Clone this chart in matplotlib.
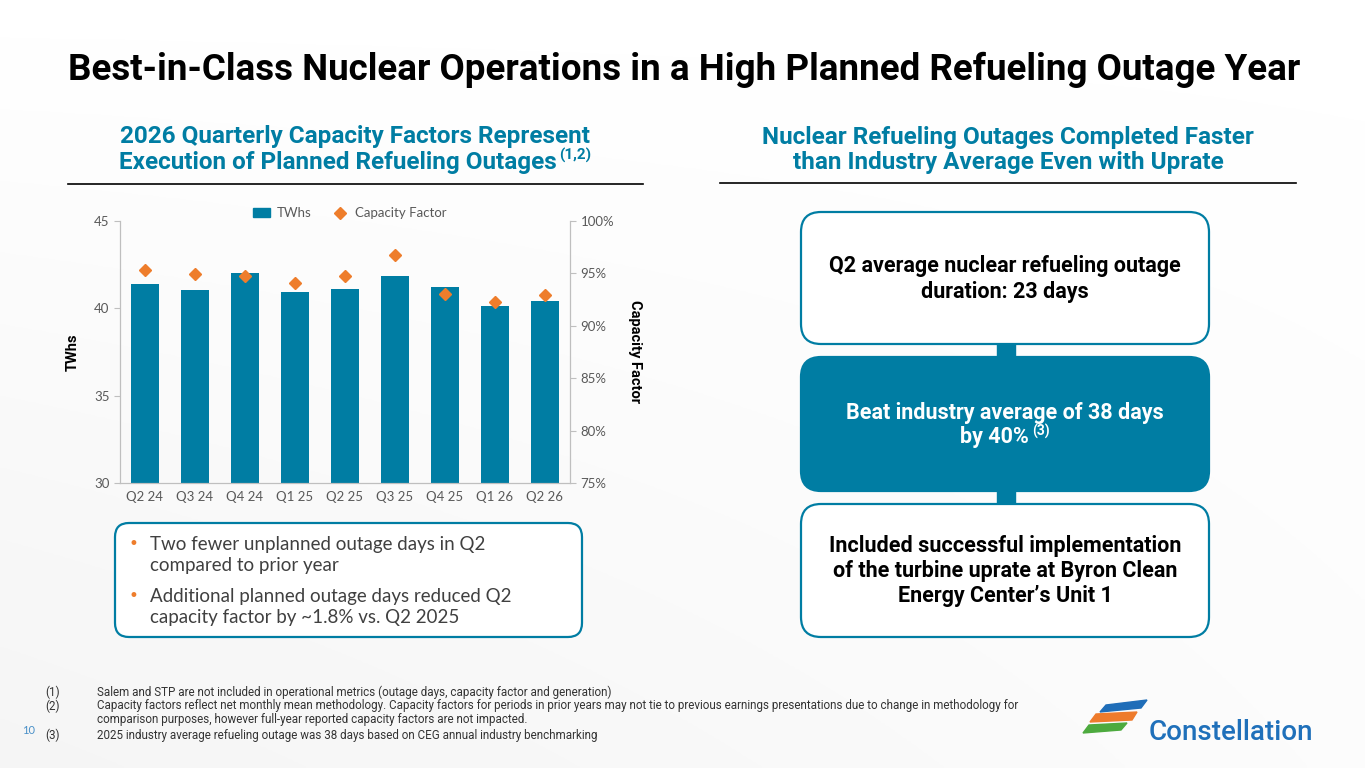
import numpy as np
import matplotlib.pyplot as plt
from matplotlib import font_manager
from matplotlib.patches import FancyBboxPatch, Rectangle, Polygon
from matplotlib.lines import Line2D
from matplotlib.ticker import FuncFormatter

# data
quarters = ['Q2 24', 'Q3 24', 'Q4 24', 'Q1 25', 'Q2 25', 'Q3 25', 'Q4 25', 'Q1 26', 'Q2 26']
twhs = [41.4, 41.05, 42.05, 40.95, 41.1, 41.85, 41.25, 40.15, 40.4]
cap_factor = [95.35, 94.95, 94.75, 94.05, 94.75, 96.75, 93.05, 92.3, 92.95]
twh_ticks = [30, 35, 40, 45]
cf_ticks = [75, 80, 85, 90, 95, 100]

TEAL = '#007DA3'
ORANGE = '#EE7D2B'
GREY = '#595959'
AXC = '#BFBFBF'

names = set(f.name for f in font_manager.fontManager.ttflist)
COND = 'Liberation Sans Narrow' if 'Liberation Sans Narrow' in names else 'Roboto'
BODY = 'Lato'

W, H = 1365, 768
fig = plt.figure(figsize=(W / 100, H / 100), dpi=100)

# full-size canvas in pixel coordinates for the slide furniture
bg = fig.add_axes([0, 0, 1, 1])
bg.set_xlim(0, W)
bg.set_ylim(H, 0)
bg.axis('off')
grad = np.linspace(0, 1, 256).reshape(-1, 1) * np.linspace(1, 0.3, 256).reshape(1, -1)
bg.imshow(grad, extent=[0, W, H, 0], cmap='Greys', vmin=0, vmax=12, aspect='auto', zorder=0)

bg.text(684, 70, 'Best-in-Class Nuclear Operations in a High Planned Refueling Outage Year',
        fontsize=26.5, fontweight='bold', family=COND, color='black', ha='center', va='center')


def with_sup(x, y, main, sup, size, sup_size, color, zorder=3):
    """centered text with a small superscript tacked on the end"""
    renderer = fig.canvas.get_renderer()
    probe = bg.text(0, 0, sup, fontsize=sup_size, fontweight='bold', family=COND)
    sw = probe.get_window_extent(renderer).width + 3
    probe.remove()
    t = bg.text(x - sw / 2, y, main, fontsize=size, fontweight='bold', family=COND, color=color,
                ha='center', va='center', zorder=zorder)
    bb = t.get_window_extent(renderer)
    bg.text(bb.x1 + 3, y - size * 0.35, sup, fontsize=sup_size, fontweight='bold', family=COND,
            color=color, ha='left', va='center', zorder=zorder)


# section headings
HS = 17.5
bg.text(355, 137, '2026 Quarterly Capacity Factors Represent', fontsize=HS, fontweight='bold',
        family=COND, color=TEAL, ha='center', va='center')
with_sup(355, 162, 'Execution of Planned Refueling Outages', '(1,2)', HS, 11, TEAL)
bg.text(1008, 150, 'Nuclear Refueling Outages Completed Faster\nthan Industry Average Even with Uprate',
        fontsize=HS, fontweight='bold', family=COND, color=TEAL, ha='center', va='center', linespacing=1.15)
bg.plot([68, 643], [184, 184], color='black', lw=1.2)
bg.plot([720, 1296], [183, 183], color='black', lw=1.2)

# right-hand flow of boxes
for y0, y1 in [(344, 357), (491, 504)]:
    bg.add_patch(Rectangle((997, y0 - 2), 18, y1 - y0 + 4, color=TEAL, zorder=1))
boxes = [(212, 344, 'white'), (357, 491, TEAL), (504, 637, 'white')]
for top, bot, fc in boxes:
    bg.add_patch(FancyBboxPatch((801, top), 408, bot - top, boxstyle='round,pad=0,rounding_size=20',
                                fc=fc, ec=TEAL, lw=1.6, zorder=2))

BS = 15.5
bg.text(1005, 279, 'Q2 average nuclear refueling outage\nduration: 23 days', fontsize=BS,
        fontweight='bold', family=COND, color='black', ha='center', va='center', linespacing=1.2, zorder=3)
bg.text(1005, 413, 'Beat industry average of 38 days', fontsize=BS,
        fontweight='bold', family=COND, color='white', ha='center', va='center', zorder=3)
with_sup(1005, 437, 'by 40%', '(3)', BS, 10, 'white')
bg.text(1005, 571, 'Included successful implementation\nof the turbine uprate at Byron Clean\nEnergy Center\u2019s Unit 1',
        fontsize=BS, fontweight='bold', family=COND, color='black', ha='center', va='center',
        linespacing=1.2, zorder=3)

# bullet box under chart
bg.add_patch(FancyBboxPatch((115, 523), 467, 114, boxstyle='round,pad=0,rounding_size=14',
                            fc='white', ec=TEAL, lw=1.6, zorder=2))
bullets = [('Two fewer unplanned outage days in Q2\ncompared to prior year', 555),
           ('Additional planned outage days reduced Q2\ncapacity factor by ~1.8% vs. Q2 2025', 607)]
for txt, yc in bullets:
    bg.text(133, yc - 11, '\u2022', fontsize=12, color=ORANGE, ha='center', va='center', zorder=3)
    bg.text(150, yc, txt, fontsize=13.5, family=BODY, color='#404040', ha='left', va='center',
            linespacing=1.3, zorder=3)

# footnotes
notes = [('(1)', 'Salem and STP are not included in operational metrics (outage days, capacity factor and generation)', 692),
         ('(2)', 'Capacity factors reflect net monthly mean methodology. Capacity factors for periods in prior years may not tie to previous earnings presentations due to change in methodology for', 706),
         ('', 'comparison purposes, however full-year reported capacity factors are not impacted.', 720),
         ('(3)', '2025 industry average refueling outage was 38 days based on CEG annual industry benchmarking', 735)]
for num, txt, y in notes:
    bg.text(45, y, num, fontsize=8.4, family=COND, color='#333333', ha='left', va='center')
    bg.text(97, y, txt, fontsize=8.4, family=COND, color='#333333', ha='left', va='center')
bg.text(29, 731, '10', fontsize=8, family=BODY, color='#4A90C8', ha='center', va='center')

# logo
bg.add_patch(Polygon([(1100, 712), (1106, 705), (1147, 700), (1141, 708)], closed=True, color='#1F6DB8'))
bg.add_patch(Polygon([(1090, 722), (1096, 714), (1137, 712), (1132, 720)], closed=True, color='#EE7B2C'))
bg.add_patch(Polygon([(1083, 733), (1089, 725), (1127, 723), (1121, 730)], closed=True, color='#4DAA3E'))
bg.text(1149, 732, 'Constellation', fontsize=20, fontweight='medium', family=COND, color='#1F70BA',
        ha='left', va='center')

# chart
ax = fig.add_axes([120 / W, (H - 483) / H, 450 / W, 262 / H])
ax.patch.set_alpha(0)
x = np.arange(len(quarters))
ax.bar(x, twhs, width=0.55, color=TEAL, zorder=2)
ax.set_xlim(-0.5, len(quarters) - 0.5)
ax.set_ylim(30, 45)
ax.set_yticks(twh_ticks)
ax.set_xticks(x)
ax.set_xticklabels(quarters)
ax.set_ylabel('TWhs', fontsize=10.5, fontweight='bold', family=COND, color='black', labelpad=10)
ax2 = ax.twinx()
ax2.plot(x, cap_factor, 'D', color=ORANGE, ms=6.5, zorder=3)
ax2.set_ylim(75, 100)
ax2.set_yticks(cf_ticks)
ax2.yaxis.set_major_formatter(FuncFormatter(lambda v, p: f'{v:.0f}%'))
ax2.set_ylabel('Capacity Factor', fontsize=10.5, fontweight='bold', family=COND, color='black',
               rotation=270, labelpad=20)
for a in (ax, ax2):
    for s in a.spines.values():
        s.set_color(AXC)
    a.spines['top'].set_visible(False)
    a.tick_params(colors=AXC, labelcolor=GREY, labelsize=9.5, length=4)
    for lab in a.get_xticklabels() + a.get_yticklabels():
        lab.set_family(BODY)
ax.tick_params(axis='x', length=0, pad=6)

handles = [Rectangle((0, 0), 1, 1, color=TEAL),
           Line2D([], [], ls='none', marker='D', color=ORANGE, ms=6.5)]
leg = ax.legend(handles, ['TWhs', 'Capacity Factor'], loc='center', bbox_to_anchor=(0.51, 1.03),
                ncol=2, frameon=False, handlelength=1.3, handletextpad=0.5, columnspacing=1.5,
                prop={'family': BODY, 'size': 9.5})
for t in leg.get_texts():
    t.set_color(GREY)

fig.savefig('out.png', dpi=100)
